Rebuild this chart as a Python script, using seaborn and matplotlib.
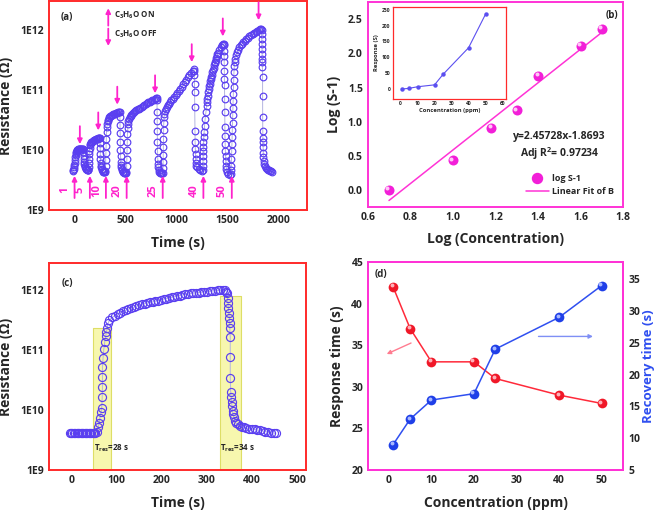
import matplotlib
matplotlib.use("Agg")
import matplotlib.pyplot as plt
import matplotlib.transforms as mtransforms
import pandas as pd
import seaborn as sns

# ---------------- data ----------------
# (a) dynamic response, (time s, log10 R) for each acetone dose
cycle_1ppm = [(-14, 9.65), (-11, 9.66), (-8, 9.68), (-5, 9.71), (-2, 9.75), (1, 9.79), (4, 9.84), (7, 9.88),
              (10, 9.92), (13, 9.95), (16, 9.97), (20, 9.99), (24, 10.0), (28, 10.01), (33, 10.01), (38, 10.02),
              (43, 10.02), (48, 10.02), (53, 10.02), (58, 10.02), (63, 10.02), (68, 10.02), (73, 10.02), (78, 10.02),
              (83, 10.02), (86, 9.97), (88, 9.91), (90, 9.86), (93, 9.81), (96, 9.77), (100, 9.74), (104, 9.72),
              (108, 9.70), (112, 9.69), (117, 9.68), (122, 9.67), (127, 9.66), (132, 9.66)]
cycle_5ppm = [(135, 9.67), (137, 9.72), (139, 9.79), (141, 9.86), (143, 9.93), (145, 9.99), (148, 10.04),
              (151, 10.08), (155, 10.10), (160, 10.12), (165, 10.13), (171, 10.14), (177, 10.15), (183, 10.16),
              (189, 10.165), (195, 10.17), (201, 10.175), (207, 10.18), (213, 10.185), (219, 10.19), (225, 10.19),
              (231, 10.195), (237, 10.2), (243, 10.2), (248, 10.2), (250, 10.12), (251, 10.03), (252, 9.94),
              (253, 9.86), (255, 9.79), (257, 9.74), (260, 9.71), (264, 9.68), (269, 9.66), (275, 9.65),
              (281, 9.64), (287, 9.64), (293, 9.63), (299, 9.63)]
cycle_10ppm = [(301, 9.65), (303, 9.74), (305, 9.84), (307, 9.95), (309, 10.07), (311, 10.19), (313, 10.30),
               (316, 10.38), (320, 10.44), (325, 10.48), (330, 10.51), (336, 10.53), (342, 10.55), (348, 10.565),
               (355, 10.575), (362, 10.585), (370, 10.595), (378, 10.60), (386, 10.605), (394, 10.61),
               (402, 10.615), (410, 10.62), (418, 10.625), (426, 10.63), (434, 10.63), (442, 10.63),
               (444, 10.55), (445, 10.42), (446, 10.28), (447, 10.14), (448, 10.01), (450, 9.90), (452, 9.81),
               (455, 9.75), (458, 9.71), (462, 9.68), (467, 9.66), (472, 9.64), (478, 9.63), (484, 9.62),
               (490, 9.62), (497, 9.62), (503, 9.62)]
cycle_20ppm = [(508, 9.64), (510, 9.74), (512, 9.86), (514, 10.0), (516, 10.14), (518, 10.27), (521, 10.37),
               (524, 10.44), (528, 10.49), (533, 10.52), (540, 10.55), (548, 10.575), (556, 10.595), (565, 10.61),
               (574, 10.625), (584, 10.64), (594, 10.65), (605, 10.665), (617, 10.68), (630, 10.695),
               (643, 10.71), (656, 10.725), (669, 10.74), (682, 10.755), (695, 10.77), (708, 10.785),
               (721, 10.80), (734, 10.81), (747, 10.825), (760, 10.835), (773, 10.845), (786, 10.855),
               (798, 10.865), (806, 10.87), (807, 10.83), (808, 10.63), (809, 10.49), (810, 10.32), (811, 10.13),
               (812, 9.99), (814, 9.85), (816, 9.77), (819, 9.71), (823, 9.67), (829, 9.64), (836, 9.62),
               (843, 9.61), (851, 9.61), (859, 9.61)]
cycle_25ppm = [(865, 9.62), (866, 9.70), (867, 9.80), (868, 9.92), (869, 10.05), (870, 10.19), (871, 10.33),
               (873, 10.46), (876, 10.55), (880, 10.60), (885, 10.65), (892, 10.69), (900, 10.72), (910, 10.75),
               (920, 10.77), (932, 10.80), (945, 10.83), (960, 10.86), (975, 10.89), (990, 10.92), (1005, 10.95),
               (1020, 10.98), (1035, 11.02), (1050, 11.06), (1065, 11.10), (1080, 11.14), (1095, 11.18),
               (1110, 11.22), (1125, 11.26), (1140, 11.29), (1155, 11.32), (1170, 11.36), (1172, 11.33),
               (1173, 11.25), (1174, 11.11), (1175, 10.97), (1176, 10.72), (1178, 10.32), (1180, 10.13),
               (1182, 10.02), (1184, 9.93), (1186, 9.85), (1189, 9.79), (1192, 9.74), (1200, 9.71),
               (1215, 9.68), (1230, 9.66), (1245, 9.65)]
cycle_40ppm = [(1255, 9.66), (1256, 9.74), (1257, 9.82), (1258, 9.90), (1259, 9.98), (1260, 10.06),
               (1262, 10.14), (1265, 10.22), (1268, 10.30), (1272, 10.40), (1278, 10.52), (1285, 10.63),
               (1292, 10.74), (1296, 10.80), (1300, 10.85), (1305, 10.91), (1310, 10.97), (1315, 11.02),
               (1320, 11.07), (1325, 11.11), (1330, 11.15), (1335, 11.19), (1340, 11.22), (1345, 11.26),
               (1350, 11.30), (1355, 11.34), (1360, 11.38), (1365, 11.42), (1370, 11.45), (1375, 11.48),
               (1380, 11.51), (1386, 11.54), (1392, 11.57), (1398, 11.60), (1405, 11.63), (1418, 11.68),
               (1430, 11.72), (1442, 11.75), (1452, 11.77), (1460, 11.78), (1462, 11.75), (1463, 11.66),
               (1464, 11.58), (1465, 11.47), (1466, 11.33), (1467, 11.19), (1468, 11.08), (1469, 10.86),
               (1470, 10.63), (1471, 10.38), (1472, 10.24), (1474, 10.10), (1476, 9.99), (1478, 9.91),
               (1480, 9.82), (1483, 9.74), (1487, 9.68), (1492, 9.63), (1505, 9.60), (1520, 9.59)]
cycle_50ppm = [(1530, 9.60), (1532, 9.66), (1534, 9.74), (1536, 9.86), (1538, 9.98), (1540, 10.10),
               (1542, 10.22), (1544, 10.34), (1546, 10.46), (1548, 10.58), (1550, 10.70), (1552, 10.82),
               (1554, 10.94), (1556, 11.06), (1558, 11.18), (1560, 11.30), (1563, 11.40), (1568, 11.47),
               (1575, 11.53), (1583, 11.59), (1592, 11.64), (1602, 11.68), (1613, 11.72), (1625, 11.75),
               (1638, 11.78), (1652, 11.80), (1667, 11.83), (1682, 11.86), (1697, 11.88), (1712, 11.90),
               (1727, 11.925), (1742, 11.945), (1757, 11.96), (1772, 11.98), (1787, 11.995), (1802, 12.01),
               (1817, 12.025), (1828, 12.03), (1831, 12.0), (1832, 11.94), (1833, 11.86), (1834, 11.78),
               (1835, 11.69), (1836, 11.61), (1837, 11.53), (1838, 11.47), (1839, 11.39), (1840, 11.23),
               (1840, 10.91), (1841, 10.55), (1842, 10.32), (1843, 10.21), (1844, 10.13), (1845, 10.05),
               (1847, 9.96), (1849, 9.88), (1852, 9.82), (1856, 9.77), (1862, 9.73), (1870, 9.70),
               (1880, 9.68), (1890, 9.67), (1900, 9.66), (1910, 9.65), (1920, 9.645), (1931, 9.64)]
doses = ["1", "5", "10", "20", "25", "40", "50"]
on_times = [0, 150, 307, 510, 863, 1261, 1539]
off_times = [52, 232, 418, 788, 1147, 1451, 1801]
off_heads = [10.10, 10.33, 10.76, 10.95, 11.47, 11.90, 12.17]   # log10 R where OFF arrows point

# (b) log response vs log concentration, plus inset
log_conc = [0.70, 1.00, 1.18, 1.30, 1.40, 1.60, 1.70]
log_s = [0.01, 0.44, 0.91, 1.17, 1.67, 2.11, 2.36]
fit_slope, fit_intercept = 2.45728, -1.8693
inset_conc = [1, 5, 10, 20, 25, 40, 50]
inset_resp = [0, 2, 7, 13, 46, 130, 236]

# (c) single 50 ppm cycle, (time s, log10 R)
c_base = [(-4, 9.61), (-1, 9.61), (2, 9.61), (5, 9.61), (8, 9.61), (11, 9.61), (14, 9.61), (17, 9.61),
          (20, 9.61), (23, 9.61), (26, 9.61), (29, 9.61), (32, 9.61), (35, 9.61), (38, 9.61), (41, 9.61),
          (44, 9.61), (47, 9.61), (50, 9.61), (53, 9.615)]
c_rise = [(56, 9.63), (59, 9.71), (61.5, 9.79), (63, 9.87), (65.5, 9.96), (67, 10.04), (68, 10.21),
          (68.5, 10.38), (68.5, 10.55), (68.5, 10.72), (70, 10.87), (71.5, 11.01), (73.5, 11.13), (76, 11.23),
          (77.5, 11.30), (79, 11.37), (81, 11.44)]
c_plateau = [(84, 11.50), (90, 11.54), (96, 11.57), (102, 11.60), (108, 11.62), (114, 11.64), (120, 11.66),
             (126, 11.68), (132, 11.70), (138, 11.71), (144, 11.73), (150, 11.74), (156, 11.76), (162, 11.77),
             (168, 11.78), (174, 11.79), (180, 11.80), (186, 11.81), (192, 11.82), (198, 11.83), (204, 11.845),
             (210, 11.855), (216, 11.865), (222, 11.875), (228, 11.885), (234, 11.895), (240, 11.905),
             (246, 11.915), (252, 11.925), (258, 11.93), (264, 11.94), (270, 11.945), (276, 11.95),
             (282, 11.955), (288, 11.96), (294, 11.965), (300, 11.97), (306, 11.975), (312, 11.98),
             (318, 11.985), (324, 11.99), (330, 11.995), (336, 12.0), (341, 12.0)]
c_fall = [(343, 11.97), (345, 11.94), (346, 11.86), (347, 11.78), (348, 11.69), (349, 11.61), (350, 11.53),
          (351, 11.44), (351, 11.36), (352, 11.22), (352, 10.88), (352, 10.54), (353, 10.30), (354, 10.21),
          (355, 10.13), (356, 10.06), (357, 9.99), (358, 9.93), (360, 9.88), (362, 9.82), (365, 9.78),
          (369, 9.76), (373, 9.74), (378, 9.72), (383, 9.71), (388, 9.70), (394, 9.69), (400, 9.68),
          (406, 9.675), (412, 9.665), (418, 9.66), (424, 9.65), (430, 9.64), (436, 9.63), (442, 9.62),
          (448, 9.615), (453, 9.61)]
spans_t = [(48, 87), (329, 376)]
spans_top = [2.3e11, 7.9e11]
span_labels = ["28", "34"]

# (d) response / recovery times
conc_ppm = [1, 5, 10, 20, 25, 40, 50]
response_time = [42, 37, 33, 33, 31, 29, 28]
recovery_time = [9, 13, 16, 17, 24, 29, 34]

# ---------------- style ----------------
PURPLE = "#5a3ff0"
LINK = "#b4b4e0"
RED_FRAME = "#ff2a2a"
MAGENTA = "#ff33d6"
ARROW_MAG = "#ff22cc"

sns.set_theme(style="white")
plt.rcParams.update({
    "font.family": ["Open Sans", "DejaVu Sans"],
    "font.weight": "bold",
    "axes.labelweight": "bold",
    "axes.labelsize": 10,
    "xtick.labelsize": 7.5,
    "ytick.labelsize": 7.5,
    "xtick.major.size": 0,
    "ytick.major.size": 0,
    "mathtext.fontset": "custom",
    "mathtext.rm": "Open Sans:bold",
    "mathtext.it": "Open Sans:bold",
    "mathtext.bf": "Open Sans:bold",
    "mathtext.default": "rm",
})

W, H = 661, 513
fig = plt.figure(figsize=(W / 100, H / 100), dpi=100)


def px_axes(x0, y0, x1, y1):
    return fig.add_axes([x0 / W, 1 - y1 / H, (x1 - x0) / W, (y1 - y0) / H])


def frame(ax, color, lw=1.4):
    for sp in ax.spines.values():
        sp.set_color(color)
        sp.set_linewidth(lw)


def log_axis(ax):
    ax.set_yscale("log")
    ax.set_yticks([1e9, 1e10, 1e11, 1e12])
    ax.set_yticklabels(["1E9", "1E10", "1E11", "1E12"])
    ax.minorticks_off()


def to_df(points):
    df = pd.DataFrame(points, columns=["time", "logr"])
    df["R"] = 10 ** df["logr"]
    return df


def balls(ax, x, y, dark, light, ms=6.6):
    sns.lineplot(x=x, y=y, ax=ax, color=dark, lw=0, marker="o", ms=ms, mec=dark, mew=0,
                 sort=False, estimator=None, zorder=4)
    shift = ax.transData + mtransforms.ScaledTranslation(-1.1 / 72, 1.1 / 72, fig.dpi_scale_trans)
    ax.plot(x, y, "o", ms=ms * 0.4, color=light, mew=0, transform=shift, zorder=5)


# ---------------- (a) ----------------
ax_a = px_axes(49, 1, 307, 210)
a_df = to_df(cycle_1ppm + cycle_5ppm + cycle_10ppm + cycle_20ppm + cycle_25ppm + cycle_40ppm + cycle_50ppm)
sns.lineplot(data=a_df, x="time", y="R", ax=ax_a, sort=False, estimator=None, color=LINK, lw=0.7,
             marker="o", ms=4.8, mfc="none", mec=PURPLE, mew=0.85)
log_axis(ax_a)
ax_a.set_ylim(1e9, 3.1e12)
ax_a.set_xlim(-250, 2275)
ax_a.set_xticks([0, 500, 1000, 1500, 2000])
ax_a.set_xlabel("Time (s)", labelpad=7)
ax_a.set_ylabel("Resistance (\u03a9)", labelpad=5)
frame(ax_a, RED_FRAME)

arrow_kw = dict(arrowstyle="-|>", color=ARROW_MAG, lw=1.3, mutation_scale=7, shrinkA=0, shrinkB=0)
for dose, t_on, t_off, head in zip(doses, on_times, off_times, off_heads):
    ax_a.annotate("", xy=(t_on, 10 ** 9.57), xytext=(t_on, 10 ** 9.2), arrowprops=arrow_kw)
    ax_a.annotate("", xy=(t_off, 10 ** head), xytext=(t_off, 10 ** (head + 0.3)), arrowprops=arrow_kw)
    ax_a.text(t_on - 40, 10 ** 9.33, dose, rotation=90, color=ARROW_MAG, fontsize=8,
              ha="right", va="center", fontweight="bold")
ax_a.annotate("", xy=(330, 10 ** 12.37), xytext=(330, 10 ** 12.08), arrowprops=arrow_kw)
ax_a.annotate("", xy=(330, 10 ** 11.74), xytext=(330, 10 ** 12.03), arrowprops=arrow_kw)
ax_a.text(390, 10 ** 12.25, "C$_3$H$_6$O ON", fontsize=5.8, va="center")
ax_a.text(390, 10 ** 11.93, "C$_3$H$_6$O OFF", fontsize=5.8, va="center")
ax_a.text(0.045, 0.92, "(a)", transform=ax_a.transAxes, fontsize=7, va="center")

# ---------------- (b) ----------------
ax_b = px_axes(367.7, 2, 623.3, 206.7)
fit_x = [log_conc[0], log_conc[-1]]
fit_y = [fit_slope * v + fit_intercept for v in fit_x]
sns.lineplot(x=fit_x, y=fit_y, ax=ax_b, color=MAGENTA, lw=1.1, label="Linear Fit of B")
balls(ax_b, log_conc, log_s, "#f21fd8", "#ffc8f6", ms=7.2)
ax_b.set_xlim(0.6, 1.8)
ax_b.set_ylim(-0.24, 2.75)
ax_b.set_xticks([0.6, 0.8, 1.0, 1.2, 1.4, 1.6, 1.8])
ax_b.set_xticklabels(["0.6", "0.8", "1.0", "1.2", "1.4", "1.6", "1.8"])
ax_b.set_yticks([0, 0.5, 1.0, 1.5, 2.0, 2.5])
ax_b.set_yticklabels(["0.0", "0.5", "1.0", "1.5", "2.0", "2.5"])
ax_b.set_xlabel("Log (Concentration)", labelpad=7)
ax_b.set_ylabel("Log (S-1)", labelpad=5)
frame(ax_b, MAGENTA)
ax_b.text(1.50, 0.79, "y=2.45728x-1.8693", fontsize=7.5, ha="center", va="center")
ax_b.text(1.50, 0.53, "Adj R$^2$= 0.97234", fontsize=7.5, ha="center", va="center")
ax_b.text(0.98, 0.935, "(b)", transform=ax_b.transAxes, fontsize=7, ha="right", va="center")
ball_handle = plt.Line2D([], [], ls="none", marker="o", ms=7.2, color="#f21fd8")
line_handle = plt.Line2D([], [], color=MAGENTA, lw=1.1)
ax_b.legend([ball_handle, line_handle], ["log S-1", "Linear Fit of B"], loc="center left",
            bbox_to_anchor=(0.6, 0.105), frameon=False, fontsize=6.5, handlelength=2.6,
            handletextpad=0.3, labelspacing=0.5, borderpad=0)

ax_in = px_axes(392.5, 6.5, 506, 98.5)
sns.lineplot(x=inset_conc, y=inset_resp, ax=ax_in, color="#5b4ff0", lw=0.8, marker="o", ms=3.2,
             mec="#5b4ff0", mew=0)
ax_in.set_xlim(-4.7, 62)
ax_in.set_ylim(-30, 260)
ax_in.set_xticks(range(0, 61, 10))
ax_in.set_yticks(range(0, 251, 50))
ax_in.tick_params(labelsize=3.6, pad=1.5)
ax_in.set_xlabel("Concentration (ppm)", fontsize=4.2, labelpad=1.5)
ax_in.set_ylabel("Response (S)", fontsize=4.2, labelpad=2)
frame(ax_in, RED_FRAME, lw=0.9)

# ---------------- (c) ----------------
ax_c = px_axes(49, 263, 306, 470)
for (t0, t1), top in zip(spans_t, spans_top):
    ax_c.fill_between([t0, t1], 1e9, top, color="#f7f7ae", edgecolor="#dede66", lw=0.8, zorder=0)
c_df = to_df(c_base + c_rise + c_plateau + c_fall)
sns.lineplot(data=c_df, x="time", y="R", ax=ax_c, sort=False, estimator=None, color=LINK, lw=0.7,
             marker="o", ms=5.8, mfc="none", mec=PURPLE, mew=0.85)
log_axis(ax_c)
ax_c.set_ylim(1e9, 2.8e12)
ax_c.set_xlim(-50, 520)
ax_c.set_xticks([0, 100, 200, 300, 400, 500])
ax_c.set_xlabel("Time (s)", labelpad=7)
ax_c.set_ylabel("Resistance (\u03a9)", labelpad=5)
frame(ax_c, RED_FRAME)
for (t0, t1), lab in zip(spans_t, span_labels):
    ax_c.text(t0 + 1, 10 ** 9.37, "T$_{res}$=" + lab + " s", fontsize=5.8, va="center")
ax_c.text(0.05, 0.9, "(c)", transform=ax_c.transAxes, fontsize=7, va="center")

# ---------------- (d) ----------------
ax_d = px_axes(368, 262, 623, 470)
ax_d2 = ax_d.twinx()
sns.lineplot(x=conc_ppm, y=response_time, ax=ax_d, color="#ff2a3a", lw=1.1)
balls(ax_d, conc_ppm, response_time, "#f01828", "#ffb0b8", ms=7)
sns.lineplot(x=conc_ppm, y=recovery_time, ax=ax_d2, color="#2f4ff0", lw=1.1)
balls(ax_d2, conc_ppm, recovery_time, "#1f3fe8", "#a8b8ff", ms=7)
ax_d.set_xlim(-4.9, 55)
ax_d.set_ylim(20, 45)
ax_d2.set_ylim(5, 37.7)
ax_d.set_xticks(range(0, 51, 10))
ax_d.set_yticks(range(20, 46, 5))
ax_d2.set_yticks(range(5, 36, 5))
ax_d2.tick_params(axis="y", labelsize=7.5, length=0, pad=4)
ax_d.set_xlabel("Concentration (ppm)", labelpad=7)
ax_d.set_ylabel("Response time (s)", labelpad=5)
ax_d2.set_ylabel("Recovery time (s)", color="#2f4ff0", fontsize=9.5, va="center")
ax_d2.yaxis.set_label_coords(1.1, 0.5)
frame(ax_d, MAGENTA)
frame(ax_d2, MAGENTA)
ax_d.annotate("", xy=(-1.1, 33.8), xytext=(5.8, 35.4),
              arrowprops=dict(arrowstyle="-|>", color="#ff7c90", lw=1.0, mutation_scale=6))
ax_d2.annotate("", xy=(48.6, 26.0), xytext=(34.5, 26.0),
               arrowprops=dict(arrowstyle="-|>", color="#7f8ff5", lw=1.0, mutation_scale=6))
ax_d.text(0.027, 0.94, "(d)", transform=ax_d.transAxes, fontsize=7, va="center")

fig.savefig("out.png", dpi=100)
